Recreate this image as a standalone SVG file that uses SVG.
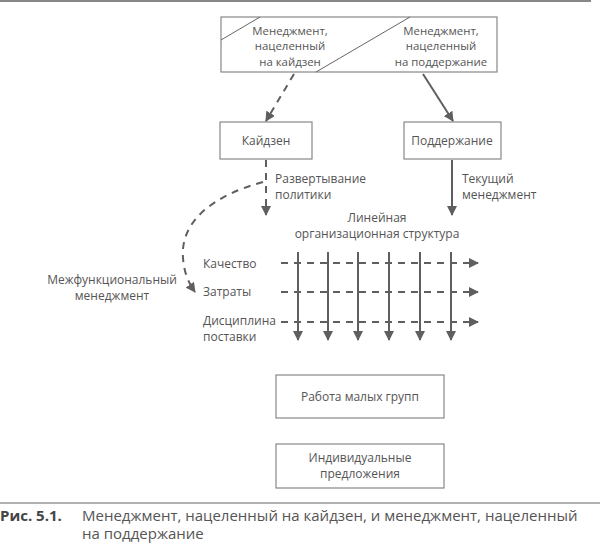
<svg xmlns="http://www.w3.org/2000/svg" width="600" height="549" viewBox="0 0 600 549">
<defs>
<marker id="ah" viewBox="0 0 10 10" refX="9" refY="5" markerWidth="10" markerHeight="10" markerUnits="userSpaceOnUse" orient="auto">
<path d="M0,0 L10,5 L0,10 z" fill="#5f5f5f"/>
</marker>
<style>
text{font-family:"Open Sans","Noto Sans","DejaVu Sans",sans-serif;font-size:12px;fill:#555}
.box{fill:#fff;stroke:#888;stroke-width:1.2}
.thin{stroke:#666;stroke-width:1;fill:none}
.sol{stroke:#5f5f5f;stroke-width:2;fill:none}
.dash{stroke:#5f5f5f;stroke-width:2;fill:none;stroke-dasharray:7 6}
.c{text-anchor:middle}
.t{font-size:11.4px}
.cap{font-size:15px}
</style>
</defs>
<line x1="0" y1="1" x2="591" y2="1" stroke="#888" stroke-width="2"/>
<g id="top">
<rect class="box" x="221" y="17" width="276" height="55"/>
<line class="thin" x1="221" y1="40" x2="260" y2="17"/>
<line class="thin" x1="316" y1="72" x2="410" y2="17"/>
<text class="c t" x="290" y="34.8">Менеджмент,</text>
<text class="c t" x="290" y="50.4">нацеленный</text>
<text class="c t" x="290" y="66">на кайдзен</text>
<text class="c t" x="441" y="34.8">Менеджмент,</text>
<text class="c t" x="441" y="50.4">нацеленный</text>
<text class="c t" x="441" y="66">на поддержание</text>
</g>
<g id="kaizen">
<rect class="box" x="220" y="122" width="92" height="37"/>
<text class="c" x="266" y="145">Кайдзен</text>
</g>
<g id="maint">
<rect class="box" x="404" y="122" width="97" height="37"/>
<text class="c" x="452" y="145">Поддержание</text>
</g>
<g id="labels">
<text x="275" y="183">Развертывание</text>
<text x="275" y="199">политики</text>
<text x="462" y="183">Текущий</text>
<text x="462" y="199">менеджмент</text>
<text class="c" x="377" y="222">Линейная</text>
<text class="c" x="377" y="238">организационная структура</text>
<text x="203" y="268">Качество</text>
<text x="203" y="296">Затраты</text>
<text x="203" y="325">Дисциплина</text>
<text x="203" y="341">поставки</text>
<text class="c" x="112" y="284">Межфункциональный</text>
<text class="c" x="112" y="300">менеджмент</text>
</g>
<g id="connectors">
<line class="dash" x1="294" y1="74" x2="266" y2="121" marker-end="url(#ah)"/>
<line class="sol" x1="423" y1="74" x2="453" y2="121" marker-end="url(#ah)"/>
<line class="dash" x1="266" y1="160" x2="266" y2="215" marker-end="url(#ah)"/>
<line class="sol" x1="452" y1="160" x2="452" y2="215" marker-end="url(#ah)"/>
<path class="dash" d="M263,182 C215,195 180,220 183,258 C184,272 188,282 195,292" marker-end="url(#ah)"/>
<line class="dash" x1="281" y1="263" x2="478" y2="263" marker-end="url(#ah)"/>
<line class="dash" x1="281" y1="292" x2="478" y2="292" marker-end="url(#ah)"/>
<line class="dash" x1="281" y1="322" x2="478" y2="322" marker-end="url(#ah)"/>
<line class="sol" x1="298" y1="252" x2="298" y2="340" marker-end="url(#ah)"/>
<line class="sol" x1="328" y1="252" x2="328" y2="340" marker-end="url(#ah)"/>
<line class="sol" x1="358" y1="252" x2="358" y2="340" marker-end="url(#ah)"/>
<line class="sol" x1="389" y1="252" x2="389" y2="340" marker-end="url(#ah)"/>
<line class="sol" x1="420" y1="252" x2="420" y2="340" marker-end="url(#ah)"/>
<line class="sol" x1="451" y1="252" x2="451" y2="340" marker-end="url(#ah)"/>
</g>
<g id="groups">
<rect class="box" x="276" y="375" width="168" height="43"/>
<text class="c" x="360" y="401">Работа малых групп</text>
</g>
<g id="proposals">
<rect class="box" x="276" y="444" width="168" height="44"/>
<text class="c" x="360" y="462">Индивидуальные</text>
<text class="c" x="360" y="478">предложения</text>
</g>
<line x1="0" y1="503" x2="600" y2="503" stroke="#999" stroke-width="1.5"/>
<text class="cap" x="0" y="521" style="font-weight:bold;fill:#444">Рис. 5.1.</text>
<text class="cap" x="82" y="521">Менеджмент, нацеленный на кайдзен, и менеджмент, нацеленный</text>
<text class="cap" x="82" y="539">на поддержание</text>
</svg>
